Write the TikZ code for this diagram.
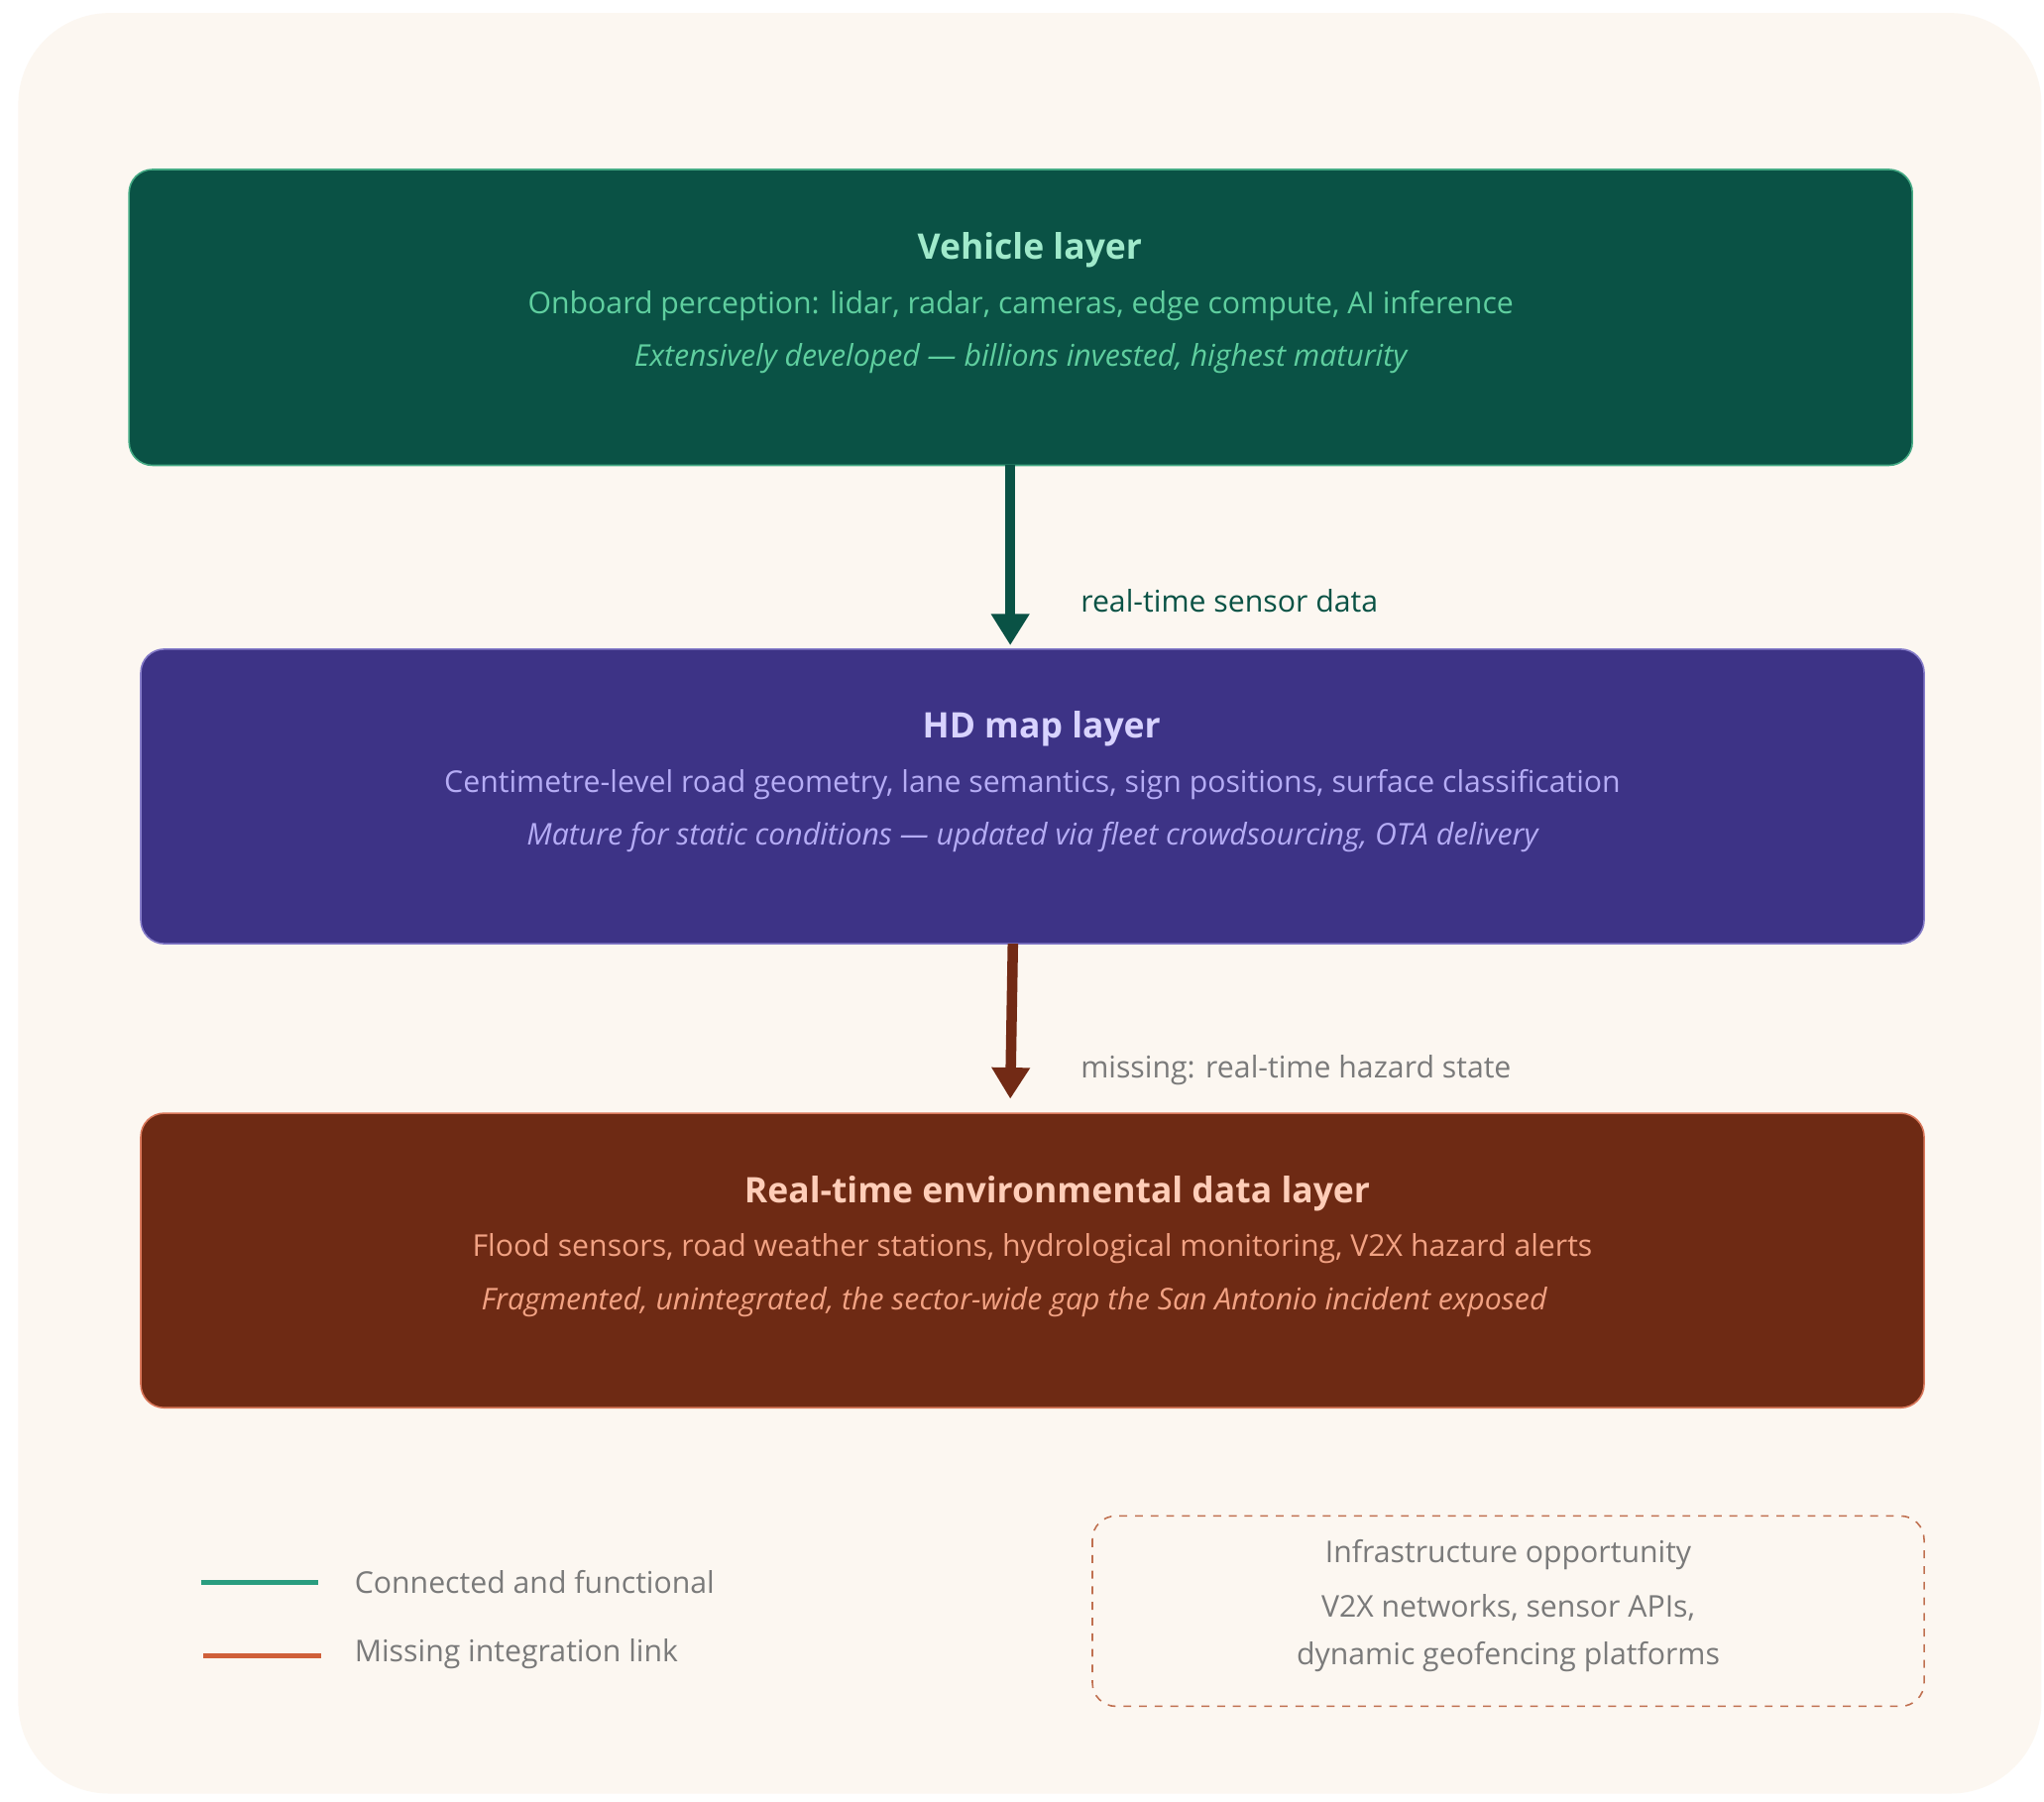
\documentclass[tikz,border=0pt]{standalone}
\usepackage{fontspec}
\setmainfont{Open Sans}
\usetikzlibrary{arrows.meta}
\definecolor{bg}{HTML}{FCF7F1}
\definecolor{vfill}{HTML}{0A5245}
\definecolor{vtitle}{HTML}{A0EACB}
\definecolor{vtext}{HTML}{5FCF9F}
\definecolor{hfill}{HTML}{3D3386}
\definecolor{htitle}{HTML}{D8D3FF}
\definecolor{htext}{HTML}{B5ACF5}
\definecolor{efill}{HTML}{6E2A14}
\definecolor{etitle}{HTML}{FFCDB8}
\definecolor{etext}{HTML}{F2A283}
\definecolor{eborder}{HTML}{D9775A}
\definecolor{arr2}{HTML}{722A15}
\definecolor{gry}{HTML}{7A7A7A}
\definecolor{lgreen}{HTML}{2A9D7F}
\definecolor{lorange}{HTML}{D0603A}
\definecolor{dashcol}{HTML}{C07050}
\begin{document}
\begin{tikzpicture}[x=0.5pt,y=-0.5pt,
  layer/.style={rounded corners=9pt,line width=0.6pt},
  ttl/.style={font=\fontsize{13.5}{16}\selectfont\bfseries},
  txt/.style={font=\fontsize{11.5}{14}\selectfont},
  itx/.style={font=\fontsize{11.5}{14}\selectfont\itshape},
  lbl/.style={font=\fontsize{11.5}{14}\selectfont,anchor=west},
  bigarrow/.style={line width=4pt,-{Triangle[width=14pt,length=12pt]}}]
\useasboundingbox (0,0) rectangle (1568,1382);
\fill[white] (0,0) rectangle (1568,1382);
\fill[bg,rounded corners=35pt] (14,10) rectangle (1566,1376);
% boxes
\draw[layer,fill=vfill,draw=vtext!70!vfill] (99,130) rectangle (1467,357);
\node[ttl,text=vtitle] (vt) at (790,192) {Vehicle layer};
\node[txt,text=vtext] (v1) at (783,235) {Onboard perception: lidar, radar, cameras, edge compute, AI inference};
\node[itx,text=vtext] (v2) at (783,275) {Extensively developed — billions invested, highest maturity};
\draw[layer,fill=hfill,draw=htext!60!hfill] (108,498) rectangle (1476,724);
\node[ttl,text=htitle] (ht) at (799,559) {HD map layer};
\node[txt,text=htext] (h1) at (792,602) {Centimetre-level road geometry, lane semantics, sign positions, surface classification};
\node[itx,text=htext] (h2) at (792,642) {Mature for static conditions — updated via fleet crowdsourcing, OTA delivery};
\draw[layer,fill=efill,draw=eborder] (108,854) rectangle (1476,1080);
\node[ttl,text=etitle] (et) at (811,916) {Real-time environmental data layer};
\node[txt,text=etext] (e1) at (792,958) {Flood sensors, road weather stations, hydrological monitoring, V2X hazard alerts};
\node[itx,text=etext] (e2) at (778,999) {Fragmented, unintegrated, the sector-wide gap the San Antonio incident exposed};
% arrows
\coordinate (a1s) at (775,357); \coordinate (a1e) at (775,495);
\coordinate (a2s) at (777,724); \coordinate (a2e) at (775,843);
\draw[bigarrow,vfill] (a1s) -- (a1e);
\draw[bigarrow,arr2] (a2s) -- (a2e);
\node[lbl,text=vfill] (l1) at (822,461) {real-time sensor data};
\node[lbl,text=gry] (l2) at (822,821) {missing: real-time hazard state};
% legend
\coordinate (g1) at (154,1214); \coordinate (g2) at (244,1214);
\coordinate (o1) at (156,1270); \coordinate (o2) at (246,1270);
\draw[lgreen,line width=2pt] (g1) -- (g2);
\draw[lorange,line width=2pt] (o1) -- (o2);
\node[lbl,text=gry] (lg) at (265,1214) {Connected and functional};
\node[lbl,text=gry] (lo) at (265,1269) {Missing integration link};
\draw[dashcol,dashed,line width=0.6pt,rounded corners=9pt] (838,1163) rectangle (1476,1309);
\node[txt,text=gry] (i1) at (1157,1193) {Infrastructure opportunity};
\node[txt,text=gry] (i2) at (1157,1233) {V2X networks, sensor APIs,};
\node[txt,text=gry] (i3) at (1157,1271) {dynamic geofencing platforms};
\end{tikzpicture}
\end{document}
